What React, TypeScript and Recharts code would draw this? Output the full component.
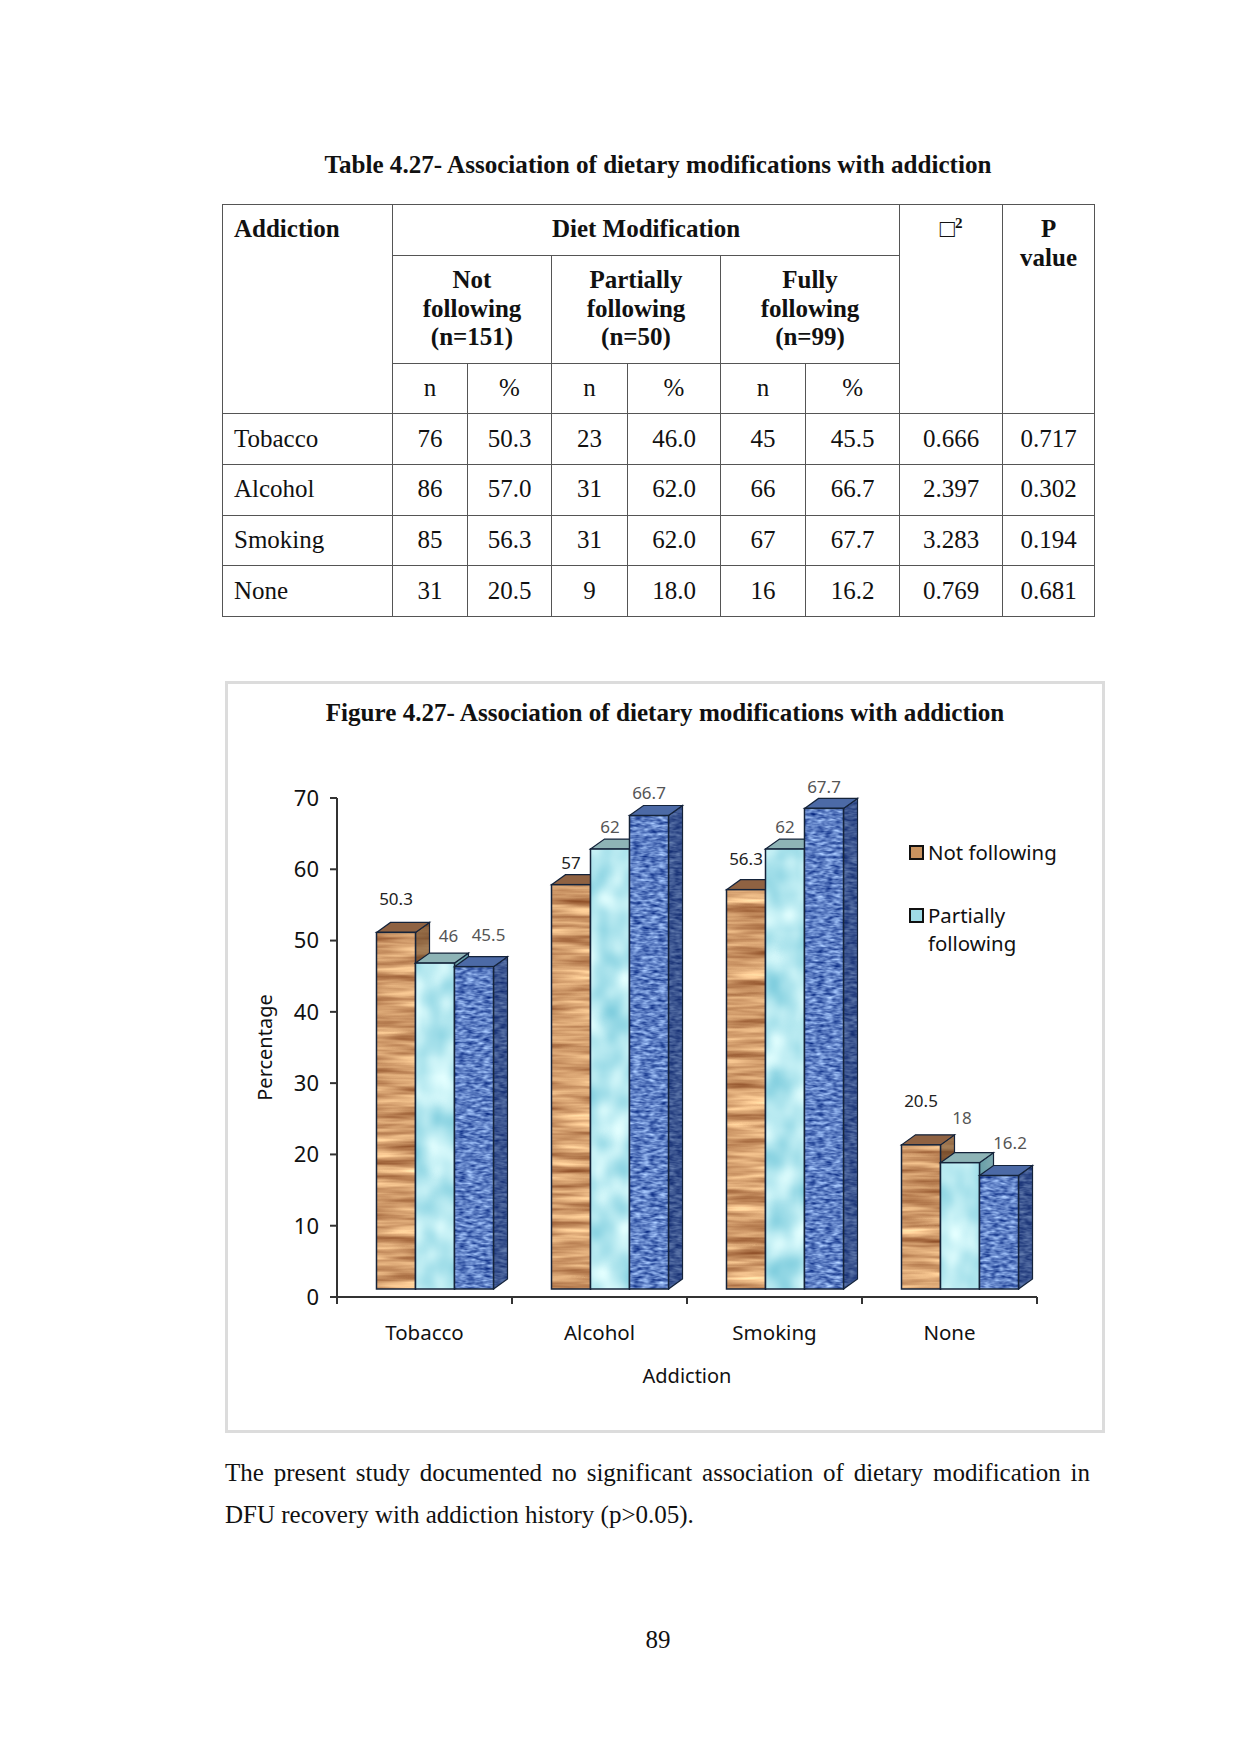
import React from 'react';
import { BarChart, Bar, XAxis, YAxis, Legend, LabelList } from 'recharts';

const categories = ['Tobacco', 'Alcohol', 'Smoking', 'None'];
const notFollowing = [50.3, 57, 56.3, 20.5];
const partiallyFollowing = [46, 62, 62, 18];
const fullyFollowing = [45.5, 66.7, 67.7, 16.2];
const yTicks = [0, 10, 20, 30, 40, 50, 60, 70];
const legendNames = ['Not following', 'Partially following'];

const tableRows = [
  ['Tobacco', '76', '50.3', '23', '46.0', '45', '45.5', '0.666', '0.717'],
  ['Alcohol', '86', '57.0', '31', '62.0', '66', '66.7', '2.397', '0.302'],
  ['Smoking', '85', '56.3', '31', '62.0', '67', '67.7', '3.283', '0.194'],
  ['None', '31', '20.5', '9', '18.0', '16', '16.2', '0.769', '0.681'],
];
const colEdges = [222, 392, 467, 551, 627, 720, 805, 899, 1002, 1094];

const chartData = categories.map((name, i) => ({
  name,
  not: notFollowing[i],
  partial: partiallyFollowing[i],
  full: fullyFollowing[i],
}));

const serif = '"Liberation Serif", serif';
const sans = '"Noto Sans", sans-serif';

const depthX = 14;
const depthY = 10;
const shiftX = 10.5;
const topLift = 6;
const baseLift = 8;
const edge = '#14233a';

const looks = {
  wood: { filter: 'url(#wood)', fill: '#c9935f', top: '#8f6242', shade: '#4a2c14' },
  water: { filter: 'url(#water)', fill: '#b4e6ee', top: '#8eb4b6', shade: '#2f5f68' },
  weave: { filter: 'url(#weave)', fill: '#5878bd', top: '#4c6aa6', shade: '#17295c' },
};

const labelDx = {
  wood: [0, 0, 0, 0],
  water: [13.5, 0, 0, 2],
  weave: [14.5, 0, 0, 11],
};
const labelDy = {
  wood: [-34, -22, -31, -44],
  water: [-28, -23, -23, -45],
  weave: [-32, -23, -22, -33],
};

function Box3D(props: any) {
  const { x, y, width, height, look } = props;
  const s = looks[look as keyof typeof looks];
  const l = x + shiftX;
  const r = l + width;
  const t = y - topLift;
  const b = y + height - baseLift;
  const side = `M${r} ${t} L${r + depthX} ${t - depthY} L${r + depthX} ${b - depthY} L${r} ${b} Z`;
  return (
    <g>
      <path d={side} fill={s.fill} filter={s.filter} />
      <path d={side} fill={s.shade} fillOpacity={0.5} stroke={edge} strokeWidth={1.2} />
      <path
        d={`M${l} ${t} L${l + depthX} ${t - depthY} L${r + depthX} ${t - depthY} L${r} ${t} Z`}
        fill={s.top}
        stroke={edge}
        strokeWidth={1.2}
      />
      <rect x={l} y={t} width={width} height={b - t} fill={s.fill} filter={s.filter} />
      <rect x={l} y={t} width={width} height={b - t} fill="none" stroke={edge} strokeWidth={1.5} />
    </g>
  );
}

function makeLabel(look: 'wood' | 'water' | 'weave', color: string) {
  return function ValueLabel(props: any) {
    const { x, y, width, value, index } = props;
    return (
      <text
        x={x + width / 2 + shiftX + labelDx[look][index]}
        y={y - topLift + labelDy[look][index]}
        textAnchor="middle"
        dominantBaseline="central"
        fontFamily={sans}
        fontSize={17}
        fill={color}
      >
        {value}
      </text>
    );
  };
}

function CategoryTick(props: any) {
  const { x, y, payload, index } = props;
  const half = payload.offset ?? 87.5;
  const axisY = y - 8;
  return (
    <g>
      <line x1={x - half} x2={x - half} y1={axisY} y2={axisY + 7} stroke="#333" strokeWidth={2} />
      {index === categories.length - 1 && (
        <line x1={x + half} x2={x + half} y1={axisY} y2={axisY + 7} stroke="#333" strokeWidth={2} />
      )}
      <text x={x} y={axisY + 35} textAnchor="middle" dominantBaseline="central" fontFamily={sans} fontSize={20.5} fill="#111">
        {payload.value}
      </text>
    </g>
  );
}

function LegendBox(props: any) {
  const items = (props.payload || []).filter((p: any) => legendNames.includes(p.value));
  return (
    <div style={{ fontFamily: sans, fontSize: 20.4, lineHeight: '28px', color: '#111' }}>
      {items.map((p: any, i: number) => (
        <div key={p.value} style={{ display: 'flex', alignItems: 'flex-start', marginBottom: 35 }}>
          <span
            style={{
              display: 'block',
              width: 11,
              height: 11,
              marginTop: 7,
              marginRight: 4,
              border: '2px solid #111',
              background: i === 0 ? '#c9935f' : '#9fdbe6',
              flex: 'none',
            }}
          />
          <span style={{ width: 135 }}>{p.value}</span>
        </div>
      ))}
    </div>
  );
}

const cell: React.CSSProperties = {
  border: '1.5px solid #555',
  padding: 0,
  textAlign: 'center',
  verticalAlign: 'middle',
  boxSizing: 'border-box',
};
const headCell: React.CSSProperties = { ...cell, fontWeight: 700, verticalAlign: 'top', paddingTop: 10 };

function Table() {
  return (
    <table
      style={{
        position: 'absolute',
        left: colEdges[0],
        top: 204,
        width: colEdges[colEdges.length - 1] - colEdges[0],
        tableLayout: 'fixed',
        borderCollapse: 'collapse',
        fontFamily: serif,
        fontSize: 25,
        lineHeight: '28.5px',
        color: '#111',
      }}
    >
      <colgroup>
        {colEdges.slice(1).map((e, i) => (
          <col key={e} style={{ width: e - colEdges[i] }} />
        ))}
      </colgroup>
      <tbody>
        <tr style={{ height: 51 }}>
          <td rowSpan={3} style={{ ...headCell, textAlign: 'left', paddingLeft: 11 }}>Addiction</td>
          <td colSpan={6} style={headCell}>Diet Modification</td>
          <td rowSpan={3} style={headCell}>□<sup style={{ fontSize: 15, lineHeight: 0 }}>2</sup></td>
          <td rowSpan={3} style={headCell}>P<br />value</td>
        </tr>
        <tr style={{ height: 108 }}>
          <td colSpan={2} style={headCell}>Not<br />following<br />(n=151)</td>
          <td colSpan={2} style={headCell}>Partially<br />following<br />(n=50)</td>
          <td colSpan={2} style={headCell}>Fully<br />following<br />(n=99)</td>
        </tr>
        <tr style={{ height: 50 }}>
          {['n', '%', 'n', '%', 'n', '%'].map((t, i) => (
            <td key={i} style={cell}>{t}</td>
          ))}
        </tr>
        {tableRows.map((row) => (
          <tr key={row[0]} style={{ height: 50.75 }}>
            {row.map((t, i) => (
              <td key={i} style={i === 0 ? { ...cell, textAlign: 'left', paddingLeft: 11 } : cell}>{t}</td>
            ))}
          </tr>
        ))}
      </tbody>
    </table>
  );
}

export default function App() {
  return (
    <div style={{ position: 'absolute', left: 0, top: 0, width: 1241, height: 1755, background: '#fff', fontFamily: serif, color: '#111' }}>
      <div style={{ position: 'absolute', left: 0, width: 1316, top: 150, textAlign: 'center', fontSize: 25.1, fontWeight: 700, lineHeight: '29px' }}>
        Table 4.27- Association of dietary modifications with addiction
      </div>
      <Table />

      <div style={{ position: 'absolute', left: 225, top: 681, width: 880, height: 752, boxSizing: 'border-box', border: '3px solid #dcdcdc' }} />
      <div style={{ position: 'absolute', left: 225, width: 880, top: 698, textAlign: 'center', fontSize: 25.1, fontWeight: 700, lineHeight: '29px' }}>
        Figure 4.27- Association of dietary modifications with addiction
      </div>

      <div style={{ position: 'absolute', left: 225, top: 682 }}>
        <BarChart
          width={879}
          height={750}
          data={chartData}
          barGap={0}
          barSize={39}
          margin={{ top: 116, right: 67, bottom: 0, left: 60 }}
        >
          <defs>
            <filter id="wood" x="0" y="0" width="100%" height="100%" colorInterpolationFilters="sRGB">
              <feTurbulence type="fractalNoise" baseFrequency="0.012 0.13" numOctaves={3} seed={7} />
              <feColorMatrix values="0.7 0 0 0 0.47  0.8 0 0 0 0.21  0.7 0 0 0 0.07  0 0 0 0 1" />
              <feComposite in2="SourceAlpha" operator="in" />
            </filter>
            <filter id="water" x="0" y="0" width="100%" height="100%" colorInterpolationFilters="sRGB">
              <feTurbulence type="fractalNoise" baseFrequency="0.035 0.028" numOctaves={2} seed={11} />
              <feColorMatrix values="0.6 0 0 0 0.41  0.3 0 0 0 0.76  0.2 0 0 0 0.84  0 0 0 0 1" />
              <feComposite in2="SourceAlpha" operator="in" />
            </filter>
            <filter id="weave" x="0" y="0" width="100%" height="100%" colorInterpolationFilters="sRGB">
              <feTurbulence type="fractalNoise" baseFrequency="0.12 0.35" numOctaves={2} seed={3} />
              <feColorMatrix values="0.9 0 0 0 -0.08  0.9 0 0 0 0.05  0.7 0 0 0 0.42  0 0 0 0 1" />
              <feComposite in2="SourceAlpha" operator="in" />
            </filter>
          </defs>
          <XAxis
            dataKey="name"
            height={135}
            axisLine={{ stroke: '#333', strokeWidth: 2 }}
            tickLine={false}
            tick={<CategoryTick />}
            tickMargin={8}
            tickSize={0}
            interval={0}
            label={{ value: 'Addiction', position: 'insideBottom', offset: 49, fontFamily: sans, fontSize: 20, fill: '#111' }}
          />
          <YAxis
            width={52}
            domain={[0, 70]}
            ticks={yTicks}
            interval={0}
            axisLine={{ stroke: '#333', strokeWidth: 2 }}
            tickLine={{ stroke: '#333', strokeWidth: 2 }}
            tickSize={7}
            tickMargin={11}
            tick={{ fontFamily: sans, fontSize: 22, fill: '#111' }}
            label={{ value: 'Percentage', angle: -90, position: 'insideLeft', offset: 0, dx: -20, fontFamily: sans, fontSize: 20, fill: '#111', style: { textAnchor: 'middle' } }}
          />
          <Legend
            layout="vertical"
            align="center"
            verticalAlign="middle"
            content={<LegendBox />}
            wrapperStyle={{ position: 'absolute', left: 684, top: 156, width: 165, height: 120 }}
          />
          <Bar dataKey="not" name="Not following" fill="#c9935f" isAnimationActive={false} shape={<Box3D look="wood" />}>
            <LabelList dataKey="not" content={makeLabel('wood', '#222')} />
          </Bar>
          <Bar dataKey="partial" name="Partially following" fill="#9fdbe6" isAnimationActive={false} shape={<Box3D look="water" />}>
            <LabelList dataKey="partial" content={makeLabel('water', '#555')} />
          </Bar>
          <Bar dataKey="full" name="Fully following" fill="#5878bd" isAnimationActive={false} shape={<Box3D look="weave" />}>
            <LabelList dataKey="full" content={makeLabel('weave', '#555')} />
          </Bar>
        </BarChart>
      </div>

      <div style={{ position: 'absolute', left: 225, top: 1452, width: 865, fontSize: 25, lineHeight: '42px', textAlign: 'justify' }}>
        The present study documented no significant association of dietary modification in DFU recovery with addiction history (p&gt;0.05).
      </div>
      <div style={{ position: 'absolute', left: 0, width: 1316, top: 1625, textAlign: 'center', fontSize: 25, lineHeight: '29px' }}>89</div>
    </div>
  );
}
